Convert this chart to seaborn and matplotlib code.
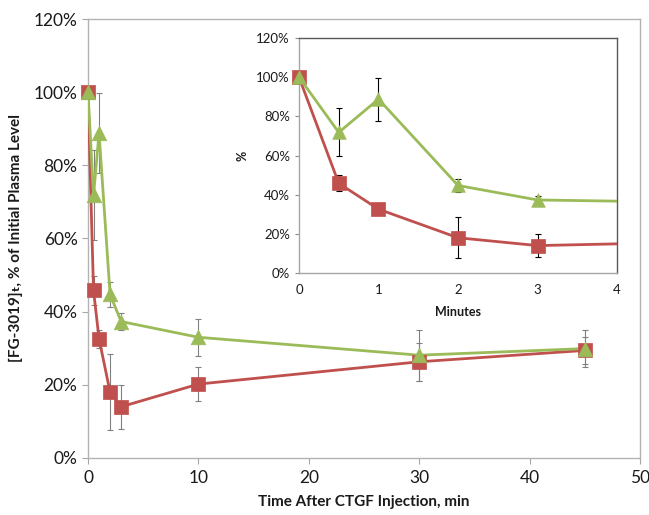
import numpy as np
import pandas as pd
import matplotlib
matplotlib.use("Agg")
import matplotlib.pyplot as plt
import seaborn as sns
from matplotlib.patches import Rectangle
from matplotlib.ticker import FuncFormatter

# data (time in min, % of initial level)
times = [0, 0.5, 1, 2, 3, 10, 30, 45]
red_vals = [100, 45.8, 32.6, 18.0, 14.0, 20.2, 26.3, 29.4]
red_err = [0, 4.0, 2.5, 10.4, 6.0, 4.7, 5.2, 3.8]
green_vals = [100, 71.8, 88.8, 44.7, 37.3, 33.0, 28.1, 29.9]
green_err = [0, 12.3, 11.0, 3.4, 2.2, 5.0, 7.0, 5.0]

main_xticks = [0, 10, 20, 30, 40, 50]
inset_xticks = [0, 1, 2, 3, 4]
yticks = [0, 20, 40, 60, 80, 100, 120]

RED = '#C0504D'
GREEN = '#9BBB59'

sns.set_style("white")
plt.rcParams['font.family'] = ['Lato', 'DejaVu Sans']

df = pd.DataFrame({'t': times, 'red': red_vals, 'red_err': red_err,
                   'green': green_vals, 'green_err': green_err})

fig = plt.figure(figsize=(6.49, 5.15), dpi=100)
ax = fig.add_axes([0.1356, 0.1107, 0.8504, 0.8524])
ins = fig.add_axes([0.4607, 0.4699, 0.49, 0.4563])

pct = FuncFormatter(lambda v, p: f"{v:.0f}%")


def draw_series(a, xmax, ecolor, ms_sq, ms_tri, capsize):
    sub = df[df['t'] <= xmax]
    for col, c, mk, ms in [('red', RED, 's', ms_sq), ('green', GREEN, '^', ms_tri)]:
        a.errorbar(df['t'], df[col], yerr=df[col + '_err'], fmt='none',
                   ecolor=ecolor, elinewidth=0.8, capsize=capsize, capthick=0.8,
                   zorder=2)
        sns.lineplot(data=df, x='t', y=col, color=c, lw=2.0, ax=a, zorder=3)
        sns.scatterplot(data=sub, x='t', y=col, color=c, marker=mk, s=ms,
                        edgecolor=c, linewidth=0.5, ax=a, zorder=4, clip_on=False)


# main chart
draw_series(ax, 50, '#808080', 110, 110, 2.5)
ax.set_xlim(0, 50)
ax.set_ylim(0, 120)
ax.set_xticks(main_xticks)
ax.set_yticks(yticks)
ax.yaxis.set_major_formatter(pct)
ax.tick_params(axis='both', labelsize=12.5, colors='#a6a6a6', labelcolor='#1a1a1a',
               length=4, width=0.8, direction='out', bottom=True, left=True)
ax.tick_params(axis='x', pad=5)
for s in ax.spines.values():
    s.set_color('#b3b3b3')
    s.set_linewidth(1.0)
ax.set_xlabel('Time After CTGF Injection, min', fontsize=11, fontweight='bold',
              labelpad=6, color='#1a1a1a')
ax.set_ylabel('[FG-3019]ₜ, % of Initial Plasma Level', fontsize=11,
              fontweight='bold', labelpad=8, color='#1a1a1a')

# inset chart (white chart area hides the main series behind it)
ins.add_patch(Rectangle((-0.14, -0.24), 1.195, 1.305, transform=ins.transAxes,
                        facecolor='white', edgecolor='none', clip_on=False, zorder=0))
draw_series(ins, 4, '#000000', 95, 95, 2.5)
ins.set_xlim(0, 4)
ins.set_ylim(0, 120)
ins.set_xticks(inset_xticks)
ins.set_yticks(yticks)
ins.yaxis.set_major_formatter(pct)
ins.tick_params(axis='both', labelsize=9.5, colors='#8c8c8c', labelcolor='#1a1a1a',
                length=3, width=0.8, direction='out', left=True, bottom=False)
ins.tick_params(axis='x', pad=5)
ins.spines['left'].set_color('#a6a6a6')
ins.spines['bottom'].set_color('#a6a6a6')
ins.spines['top'].set_color('#595959')
ins.spines['right'].set_color('#595959')
for s in ins.spines.values():
    s.set_linewidth(1.0)
ins.set_xlabel('Minutes', fontsize=9, fontweight='bold', labelpad=7, color='#1a1a1a')
ins.set_ylabel('%', fontsize=9, fontweight='bold', labelpad=6, color='#1a1a1a')

fig.savefig('out.png', dpi=100, facecolor='white')
